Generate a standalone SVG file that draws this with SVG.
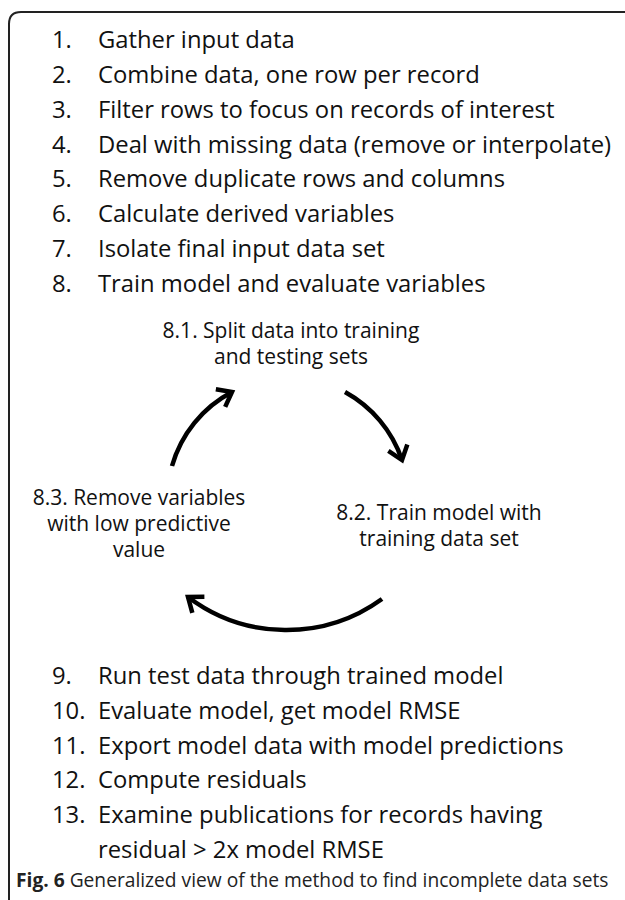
<svg xmlns="http://www.w3.org/2000/svg" width="625" height="900" viewBox="0 0 625 900">
  <style>
    .frame { fill: none; stroke: #222; stroke-width: 2; }
    .step { font-family: "Open Sans", "Liberation Sans", sans-serif; font-size: 23.8px; fill: #111; }
    .sub { font-family: "Open Sans", "Liberation Sans", sans-serif; font-size: 21px; fill: #111; text-anchor: middle; }
    .cap { font-family: "Open Sans", "Liberation Sans", sans-serif; font-size: 19.2px; fill: #222; }
    .cap-b { font-weight: bold; }
    .flow { fill: none; stroke: #000; stroke-width: 4.5; marker-end: url(#chevron); }
  </style>
  <defs>
    <marker id="chevron" markerUnits="userSpaceOnUse" viewBox="-16 -12 20 24" refX="0" refY="0" markerWidth="20" markerHeight="24" orient="auto" overflow="visible">
      <path d="M -13 -10 L 0 0 L -13 10" fill="none" stroke="#000" stroke-width="4.5" stroke-linecap="butt" stroke-linejoin="miter"/>
    </marker>
  </defs>

  <rect width="625" height="900" fill="#fff"/>

  <!-- outer frame, open on the right and bottom -->
  <path class="frame" d="M 9 900 V 24 Q 9 12 21 12 H 625"/>

  <!-- steps 1-8 -->
  <g id="steps-top" class="step">
    <text x="52" y="48">1.</text><text x="98" y="48">Gather input data</text>
    <text x="52" y="83">2.</text><text x="98" y="83">Combine data, one row per record</text>
    <text x="52" y="118">3.</text><text x="98" y="118">Filter rows to focus on records of interest</text>
    <text x="52" y="153">4.</text><text x="98" y="153">Deal with missing data (remove or interpolate)</text>
    <text x="52" y="187">5.</text><text x="98" y="187">Remove duplicate rows and columns</text>
    <text x="52" y="222">6.</text><text x="98" y="222">Calculate derived variables</text>
    <text x="52" y="257">7.</text><text x="98" y="257">Isolate final input data set</text>
    <text x="52" y="292">8.</text><text x="98" y="292">Train model and evaluate variables</text>
  </g>

  <!-- training cycle -->
  <g id="node-8-1" class="sub">
    <text x="291" y="338">8.1. Split data into training</text>
    <text x="291" y="364">and testing sets</text>
  </g>
  <g id="node-8-2" class="sub">
    <text x="439" y="520">8.2. Train model with</text>
    <text x="439" y="546">training data set</text>
  </g>
  <g id="node-8-3" class="sub">
    <text x="139" y="505">8.3. Remove variables</text>
    <text x="139" y="531">with low predictive</text>
    <text x="139" y="557">value</text>
  </g>

  <g id="connectors">
    <path class="flow" d="M 172 466 A 121 121 0 0 1 232 392"/>
    <path class="flow" d="M 345 392 A 122 122 0 0 1 402 460"/>
    <path class="flow" d="M 382 599 A 163 163 0 0 1 188 597"/>
  </g>

  <!-- steps 9-13 -->
  <g id="steps-bottom" class="step">
    <text x="52" y="684">9.</text><text x="98" y="684">Run test data through trained model</text>
    <text x="52" y="719">10.</text><text x="98" y="719">Evaluate model, get model RMSE</text>
    <text x="52" y="754">11.</text><text x="98" y="754">Export model data with model predictions</text>
    <text x="52" y="788">12.</text><text x="98" y="788">Compute residuals</text>
    <text x="52" y="823">13.</text><text x="98" y="823">Examine publications for records having</text>
    <text x="98" y="858">residual &gt; 2x model RMSE</text>
  </g>

  <!-- caption -->
  <g id="caption" class="cap">
    <text x="16" y="887"><tspan class="cap-b">Fig. 6</tspan> Generalized view of the method to find incomplete data sets</text>
  </g>
</svg>
